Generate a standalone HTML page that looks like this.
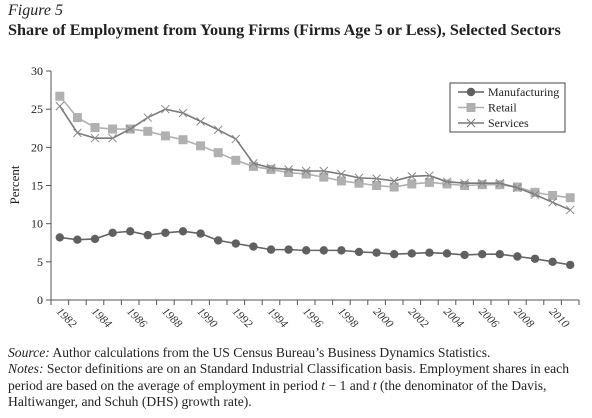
<!DOCTYPE html>
<html><head><meta charset="utf-8"><style>
body{margin:0;background:#fff;width:592px;height:418px;overflow:hidden;font-family:"Liberation Serif",serif;color:#222}
.fig{position:absolute;left:8px;top:2px;font-style:italic;font-size:16px}
.title{position:absolute;left:8px;top:21px;font-weight:bold;font-size:16.2px;white-space:nowrap}
.notes{position:absolute;left:8px;top:345px;font-size:13.6px;line-height:16.4px;white-space:nowrap}
svg{position:absolute;left:0;top:0}
</style></head><body>
<div class="fig">Figure 5</div>
<div class="title">Share of Employment from Young Firms (Firms Age 5 or Less), Selected Sectors</div>
<svg id="chart" width="592" height="345"></svg>
<div class="notes"><i>Source:</i> Author calculations from the US Census Bureau’s Business Dynamics Statistics.<br><i>Notes:</i> Sector definitions are on an Standard Industrial Classification basis. Employment shares in each<br>period are based on the average of employment in period <i>t</i> − 1 and <i>t</i> (the denominator of the Davis,<br>Haltiwanger, and Schuh (DHS) growth rate).</div>
<script>
const years=[1982,1983,1984,1985,1986,1987,1988,1989,1990,1991,1992,1993,1994,1995,1996,1997,1998,1999,2000,2001,2002,2003,2004,2005,2006,2007,2008,2009,2010,2011];
const manufacturing=[8.2,7.9,8.0,8.8,9.0,8.5,8.8,9.0,8.7,7.8,7.4,7.0,6.6,6.6,6.5,6.5,6.5,6.3,6.2,6.0,6.1,6.2,6.1,5.9,6.0,6.0,5.7,5.4,5.0,4.6];
const retail=[26.7,23.9,22.6,22.4,22.4,22.1,21.5,21.0,20.2,19.3,18.3,17.5,17.1,16.7,16.5,16.1,15.6,15.3,15.0,14.8,15.2,15.4,15.2,15.0,15.1,15.1,14.8,14.1,13.7,13.4];
const services=[25.4,21.9,21.2,21.2,22.4,23.9,25.0,24.5,23.4,22.3,21.1,17.9,17.3,17.1,16.9,16.9,16.5,16.0,15.9,15.6,16.2,16.3,15.5,15.3,15.3,15.3,14.7,13.8,12.8,11.8];
const yTicks=[0,5,10,15,20,25,30];
const xLabels=[1982,1984,1986,1988,1990,1992,1994,1996,1998,2000,2002,2004,2006,2008,2010];
const NS='http://www.w3.org/2000/svg',svg=document.getElementById('chart');
const x0=51,step=17.6,y0=300,yk=7.633;
const X=i=>x0+step*(i+0.5), Y=v=>y0-v*yk;
function el(t,a,p){const e=document.createElementNS(NS,t);for(const k in a)e.setAttribute(k,a[k]);(p||svg).appendChild(e);return e;}
let e=el('line',{x1:x0,y1:Y(30),x2:x0,y2:y0,stroke:'#555'});


e=el('line',{x1:x0,y1:y0,x2:x0+step*years.length,y2:y0,stroke:'#555'});


yTicks.forEach(v=>{el('line',{x1:x0-5,y1:Y(v),x2:x0,y2:Y(v),stroke:'#555'});
 const t=el('text',{x:x0-8,y:Y(v)+4,'text-anchor':'end','font-size':12,fill:'#222'});t.textContent=v;
 
 });
for(let i=0;i<=years.length;i++)el('line',{x1:x0+step*i,y1:y0,x2:x0+step*i,y2:y0+5,stroke:'#555'});
xLabels.forEach(yr=>{const i=years.indexOf(yr);const x=X(i)-4,y=y0+12;
 const t=el('text',{x:x,y:y,transform:`rotate(45 ${x} ${y})`,'font-size':11.5,'font-style':'italic',fill:'#333'});t.textContent=yr;
 
 });
const yl=el('text',{x:19,y:185,transform:'rotate(-90 19 185)','text-anchor':'middle','font-size':13,fill:'#222'});yl.textContent='Percent';


function marker(type,x,y,c,g){
 if(type==='circle')el('circle',{cx:x,cy:y,r:4.2,fill:c},g);
 else if(type==='square')el('rect',{x:x-4.5,y:y-4.5,width:9,height:9,fill:c},g);
 else{el('path',{d:`M${x-4} ${y-4}L${x+4} ${y+4}M${x-4} ${y+4}L${x+4} ${y-4}`,stroke:c,'stroke-width':1},g);}
}
function series(vals,c,lc,type,name){
 const g=el('g',{});
 
 
 el('polyline',{points:vals.map((v,i)=>X(i)+','+Y(v)).join(' '),fill:'none',stroke:lc,'stroke-width':1.6},g);
 vals.forEach((v,i)=>marker(type,X(i),Y(v),c,g));
}
series(retail,'#b0b0b0','#b0b0b0','square','retail');
series(services,'#8a8a8a','#7a7a7a','x','services');
series(manufacturing,'#606060','#666','circle','manufacturing');
const lg=el('g',{});


el('rect',{x:450,y:83,width:115,height:49,fill:'#fff',stroke:'#444'},lg);
[['Manufacturing','circle','#606060'],['Retail','square','#b0b0b0'],['Services','x','#7a7a7a']].forEach((d,k)=>{
 const y=92+k*15.5;
 el('line',{x1:458,y1:y,x2:484,y2:y,stroke:d[2],'stroke-width':1.5},lg);
 marker(d[1],471,y,d[2],lg);
 const t=el('text',{x:488,y:y+4,'font-size':12,fill:'#222'},lg);t.textContent=d[0];
 
 
});
</script>
</body></html>
